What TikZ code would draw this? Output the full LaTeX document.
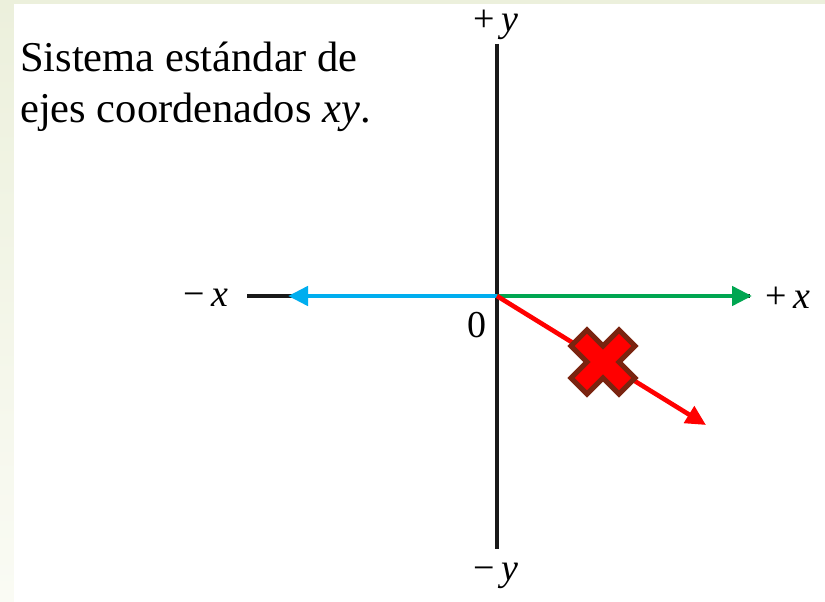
\documentclass[tikz,border=0pt]{standalone}
\usepackage{fontspec}
\setmainfont{Liberation Serif}
\usetikzlibrary{arrows.meta}
\definecolor{bgg}{HTML}{ECF0DC}
\definecolor{bgw}{HTML}{FAFBF4}
\definecolor{axblue}{HTML}{00AEEF}
\definecolor{axgreen}{HTML}{00A651}
\definecolor{axred}{HTML}{FF0000}
\definecolor{xbrown}{HTML}{7A2410}
\tikzset{
  axisline/.style={line width=3.6pt, draw=black!90},
  colarrow/.style={line width=4.6pt, -{Triangle[length=20pt,width=19pt]}},
  lbl/.style={inner sep=0pt, font=\fontsize{38}{44}\selectfont},
  caption/.style={inner sep=0pt, anchor=base west, font=\fontsize{42.5}{50}\selectfont},
  xmark/.style={fill=axred, draw=xbrown, line width=5pt, line join=miter}
}
\begin{document}
\begin{tikzpicture}[x=1pt,y=-1pt]
\useasboundingbox (0,0) rectangle (825,602);
\shade[top color=bgg, bottom color=bgw] (0,0) rectangle (825,602);
\fill[white] (14,4) rectangle (825,602);
% coordinates
\coordinate (O) at (497,296);
\coordinate (ytop) at (497,44);
\coordinate (ybot) at (497,549);
\coordinate (xleft) at (247,296);
\coordinate (xright) at (750,296);
\coordinate (bluetip) at (288,296);
\coordinate (greentip) at (752,296);
\coordinate (redtip) at (706,425);
% labels
\node[lbl] (py) at (496,25) {+\,\textit{y}};
\node[lbl] (my) at (496,576) {−\,\textit{y}};
\node[lbl] (mx) at (206,298) {−\,\textit{x}};
\node[lbl] (px) at (788,298) {+\,\textit{x}};
\node[lbl] (zero) at (477,325) {0};
\node[caption] (cap1) at (20,72) {Sistema estándar de};
\node[caption] (cap2) at (20,122) {ejes coordenados \textit{xy}.};
% axes
\draw[axisline] (ytop) -- (ybot);
\draw[axisline] (xleft) -- (xright);
% colored arrows
\draw[colarrow, axblue] (O) -- (bluetip);
\draw[colarrow, axgreen] (O) -- (greentip);
\draw[colarrow, axred] (O) -- (redtip);
% X mark
\begin{scope}[shift={(603,362)}]
\def\d{16}
\draw[xmark] (-\d,-2*\d) -- (-2*\d,-\d) -- (-\d,0) -- (-2*\d,\d) -- (-\d,2*\d) -- (0,\d)
  -- (\d,2*\d) -- (2*\d,\d) -- (\d,0) -- (2*\d,-\d) -- (\d,-2*\d) -- (0,-\d) -- cycle;
\end{scope}
\end{tikzpicture}
\end{document}
